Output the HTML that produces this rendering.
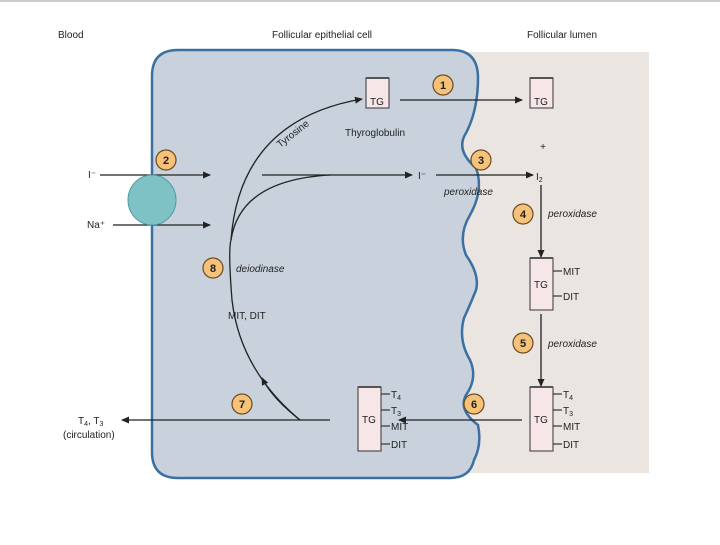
<!DOCTYPE html>
<html><head><style>
body{margin:0;background:#fff;}
svg text{font-family:"Liberation Sans",sans-serif;fill:#222;}
</style></head><body>
<svg width="720" height="540" viewBox="0 0 720 540" xmlns="http://www.w3.org/2000/svg">
<defs>
<marker id="ah" markerWidth="8" markerHeight="8" refX="7" refY="4" orient="auto" markerUnits="userSpaceOnUse">
<path d="M0,0.5 L8,4 L0,7.5 Z" fill="#222"/></marker>
</defs>
<line x1="0" y1="1" x2="720" y2="1" stroke="#999" stroke-width="1"/>
<rect x="440" y="52" width="209" height="421" fill="#ebe5e1"/>
<path d="M178,50 L452,50 Q478,50 478,78 Q478,110 466,133 Q455,150 476,168 Q484,190 470,215 Q458,235 466,255 Q480,275 476,290 Q470,305 464,318 Q458,340 470,360 Q478,378 466,395 Q458,410 478,425 Q482,445 474,460 Q470,478 450,478 L178,478 Q152,478 152,452 L152,76 Q152,50 178,50 Z" fill="#c9d1dd" stroke="#3a70a2" stroke-width="2.5"/>
<text x="58" y="38" font-size="10">Blood</text>
<text x="322" y="38" font-size="10" text-anchor="middle">Follicular epithelial cell</text>
<text x="562" y="38" font-size="10" text-anchor="middle">Follicular lumen</text>
<g fill="#f6e6e8" stroke="#333" stroke-width="1">
<rect x="366" y="78" width="23" height="30"/>
<rect x="530" y="78" width="23" height="30"/>
<rect x="530" y="258" width="23" height="52"/>
<rect x="530" y="387" width="23" height="64"/>
<rect x="358" y="387" width="23" height="64"/>
</g>
<g stroke="#555" stroke-width="2">
<line x1="366" y1="78" x2="389" y2="78"/><line x1="530" y1="78" x2="553" y2="78"/>
<line x1="530" y1="258" x2="553" y2="258"/><line x1="530" y1="387" x2="553" y2="387"/><line x1="358" y1="387" x2="381" y2="387"/>
</g>
<g font-size="10" text-anchor="middle">
<text x="377" y="105">TG</text><text x="541" y="105">TG</text>
<text x="541" y="288">TG</text><text x="541" y="423">TG</text><text x="369" y="423">TG</text>
<text x="375" y="136">Thyroglobulin</text>
<text x="543" y="150">+</text>
</g>
<g stroke="#333" stroke-width="1.2">
<line x1="553" y1="271" x2="562" y2="271"/><line x1="553" y1="296" x2="562" y2="296"/>
<line x1="553" y1="394" x2="562" y2="394"/><line x1="553" y1="410" x2="562" y2="410"/><line x1="553" y1="426" x2="562" y2="426"/><line x1="553" y1="444" x2="562" y2="444"/>
<line x1="381" y1="394" x2="390" y2="394"/><line x1="381" y1="410" x2="390" y2="410"/><line x1="381" y1="426" x2="390" y2="426"/><line x1="381" y1="444" x2="390" y2="444"/>
</g>
<g font-size="10">
<text x="563" y="275">MIT</text><text x="563" y="300">DIT</text>
<text x="563" y="398">T<tspan font-size="7" dy="2">4</tspan></text><text x="563" y="414">T<tspan font-size="7" dy="2">3</tspan></text><text x="563" y="430">MIT</text><text x="563" y="448">DIT</text>
<text x="391" y="398">T<tspan font-size="7" dy="2">4</tspan></text><text x="391" y="414">T<tspan font-size="7" dy="2">3</tspan></text><text x="391" y="430">MIT</text><text x="391" y="448">DIT</text>
<text x="88" y="178">I⁻</text><text x="87" y="228">Na⁺</text>
<text x="418" y="179" font-family="Liberation Serif">I⁻</text>
<text x="536" y="180" font-family="Liberation Serif">I<tspan font-size="7" dy="2">2</tspan></text>
<text x="228" y="319">MIT, DIT</text>
<text x="78" y="424">T<tspan font-size="7" dy="2">4</tspan><tspan dy="-2">, T</tspan><tspan font-size="7" dy="2">3</tspan></text>
<text x="63" y="438">(circulation)</text>
</g>
<g font-size="10" font-style="italic">
<text x="444" y="195">peroxidase</text>
<text x="548" y="217">peroxidase</text>
<text x="548" y="347">peroxidase</text>
<text x="236" y="272">deiodinase</text>
</g>
<g stroke="#222" stroke-width="1.3" fill="none">
<line x1="400" y1="100" x2="522" y2="100" marker-end="url(#ah)"/>
<line x1="100" y1="175" x2="210" y2="175" marker-end="url(#ah)"/>
<line x1="113" y1="225" x2="210" y2="225" marker-end="url(#ah)"/>
<line x1="262" y1="175" x2="412" y2="175" marker-end="url(#ah)"/>
<line x1="436" y1="175" x2="533" y2="175" marker-end="url(#ah)"/>
<line x1="541" y1="185" x2="541" y2="257" marker-end="url(#ah)"/>
<line x1="541" y1="314" x2="541" y2="386" marker-end="url(#ah)"/>
<line x1="522" y1="420" x2="399" y2="420" marker-end="url(#ah)"/>
<line x1="330" y1="420" x2="122" y2="420" marker-end="url(#ah)"/>
<path d="M300,420 Q240,370 232,300 Q228,250 231,240"/>
<path d="M300,420 Q272,398 262,378" marker-end="url(#ah)"/>
<path d="M231,240 Q240,120 362,99" marker-end="url(#ah)"/>
<path d="M231,240 Q240,180 330,175"/>
</g>
<text x="0" y="0" font-size="10" transform="translate(280,148) rotate(-38)">Tyrosine</text>
<g stroke="#6a4a20" stroke-width="1.2" fill="#f6c27a">
<circle cx="443" cy="85" r="10"/><circle cx="166" cy="160" r="10"/><circle cx="481" cy="160" r="10"/>
<circle cx="523" cy="214" r="10"/><circle cx="523" cy="343" r="10"/><circle cx="474" cy="404" r="10"/>
<circle cx="242" cy="404" r="10"/><circle cx="213" cy="268" r="10"/>
</g>
<g font-size="11" font-weight="bold" text-anchor="middle">
<text x="443" y="89">1</text><text x="166" y="164">2</text><text x="481" y="164">3</text>
<text x="523" y="218">4</text><text x="523" y="347">5</text><text x="474" y="408">6</text>
<text x="242" y="408">7</text><text x="213" y="272">8</text>
</g>
<ellipse cx="152" cy="200" rx="24" ry="25" fill="#7fc2c6" stroke="#4f9aa0" stroke-width="1"/>
</svg>
</body></html>
